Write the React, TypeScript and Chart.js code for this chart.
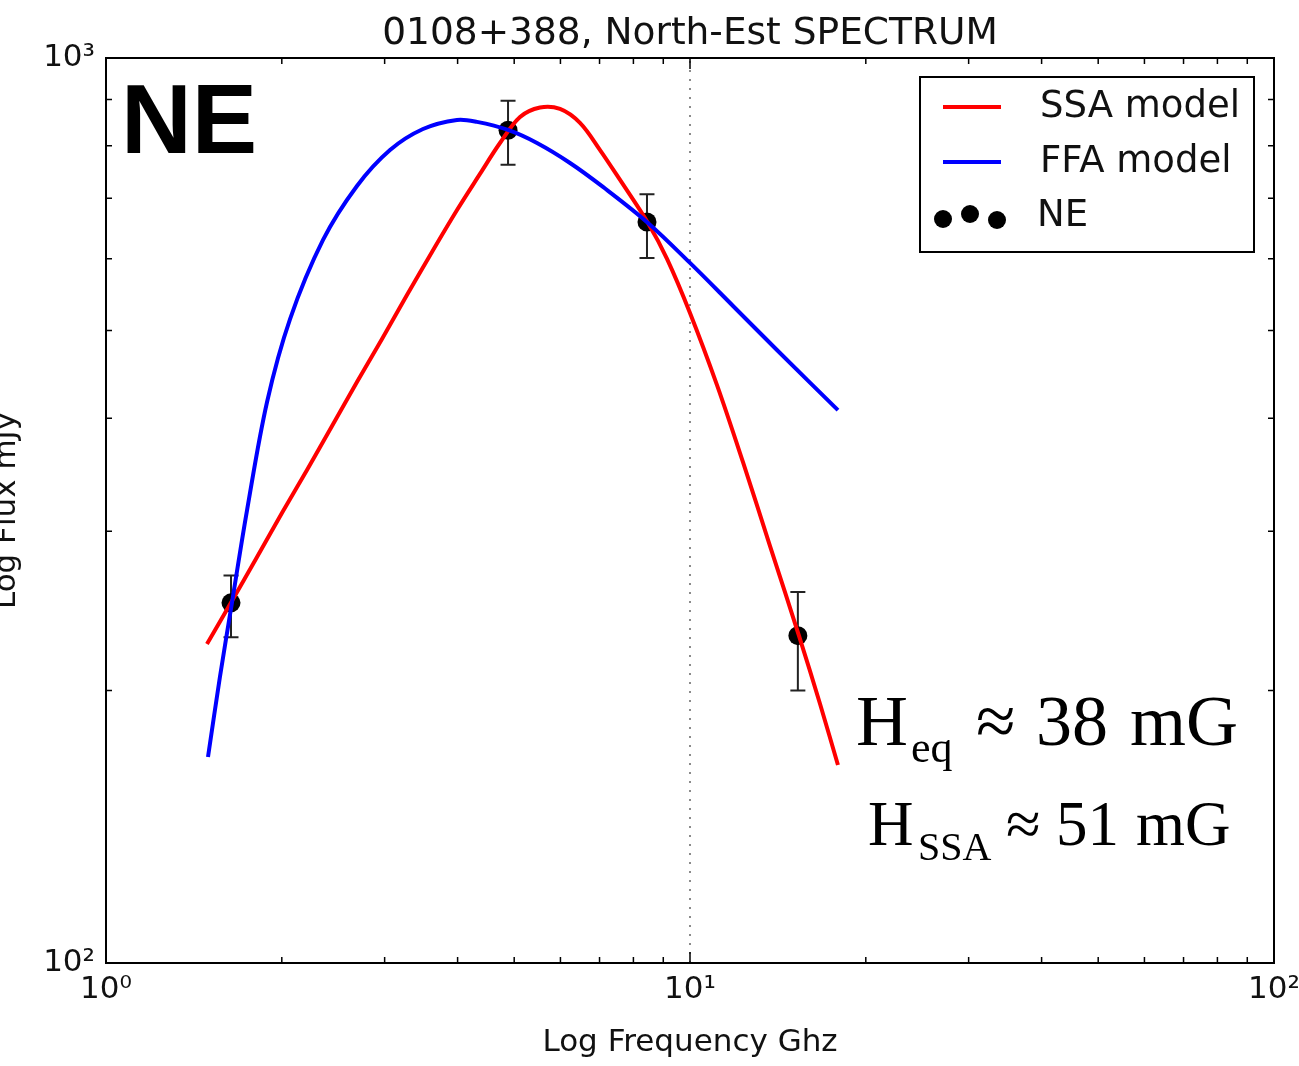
import { useEffect, useRef } from "react";
import { Chart, registerables } from "chart.js";

Chart.register(...registerables);

// ---- text ----
const chartTitle = "0108+388, North-Est SPECTRUM";
const xAxisTitle = "Log Frequency Ghz";
const yAxisTitle = "Log Flux mJy";
const panelLabel = "NE";
const legendLabels = ["SSA model", "FFA model", "NE"];

// ---- axes ----
const xRange = [1, 100];
const yRange = [100, 1000];
const vLineFreq = 10;

// ---- observed points (GHz, mJy) ----
const obsFreq = [1.637, 4.88, 8.44, 15.3];
const obsFlux = [250, 832, 659, 230];
const obsFluxLow = [229, 762, 601, 200];
const obsFluxHigh = [268, 897, 707, 257];

// ---- SSA model curve ----
const ssaFreq = [1.489, 1.643, 1.814, 2.001, 2.209, 2.438, 2.69, 2.969, 3.276, 3.616, 3.991, 4.369, 4.727, 5.116, 5.535, 5.99, 6.481, 7.014, 7.59, 8.474, 9.134, 10.0, 11.12, 12.32, 13.71, 15.37, 16.7, 17.92];
const ssaFlux = [225.2, 251.2, 280.9, 314.2, 350.6, 392.1, 438.5, 489.3, 547.2, 610.6, 679.3, 744.6, 805.5, 860.7, 881.8, 878.5, 847.8, 791.2, 733.2, 657.2, 599.8, 522.7, 435.3, 357.8, 288.9, 229.8, 193.3, 165.5];

// ---- FFA model curve ----
const ffaFreq = [1.495, 1.567, 1.643, 1.744, 1.887, 2.066, 2.353, 2.69, 3.064, 3.49, 3.99, 4.318, 4.879, 5.47, 6.231, 7.096, 8.474, 10.0, 11.85, 14.09, 17.92];
const ffaFlux = [168.9, 207.0, 250.0, 316.6, 416.8, 514.7, 629.4, 722.1, 791.3, 834.8, 854.3, 850.0, 832.7, 805.5, 765.6, 720.3, 657.3, 593.7, 532.1, 475.7, 408.3];

// ---- annotation text ----
const annot1 = { main: "H", sub: "eq", rest: ["≈", "38", "mG"] };
const annot2 = { main: "H", sub: "SSA", rest: ["≈", "51", "mG"] };

const SANS = "'DejaVu Sans', sans-serif";
const SERIF = "'Liberation Serif', 'Times New Roman', serif";

const supDigits: Record<string, string> = { "0": "⁰", "1": "¹", "2": "²", "3": "³", "4": "⁴" };
function isDecade(v: number) {
  const l = Math.log10(v);
  return Math.abs(l - Math.round(l)) < 1e-6;
}
function decadeLabel(v: number) {
  const e = String(Math.round(Math.log10(v)));
  return "10" + e.split("").map((c) => supDigits[c] || c).join("");
}
function logTickValues(min: number, max: number) {
  const out: { v: number; major: boolean }[] = [];
  for (let k = min; k < max; k *= 10) {
    for (let m = 1; m <= 9; m++) out.push({ v: m * k, major: m === 1 });
  }
  out.push({ v: max, major: true });
  return out;
}

const decorPlugin = {
  id: "decor",
  beforeDatasetsDraw(chart: any) {
    const ctx = chart.ctx;
    const xs = chart.scales.x;
    const ys = chart.scales.y;
    ctx.save();
    ctx.strokeStyle = "#222";
    ctx.lineWidth = 2;
    for (let i = 0; i < obsFreq.length; i++) {
      const px = xs.getPixelForValue(obsFreq[i]);
      const y1 = ys.getPixelForValue(obsFluxLow[i]);
      const y2 = ys.getPixelForValue(obsFluxHigh[i]);
      ctx.beginPath();
      ctx.moveTo(px, y1);
      ctx.lineTo(px, y2);
      ctx.moveTo(px - 7.5, y1);
      ctx.lineTo(px + 7.5, y1);
      ctx.moveTo(px - 7.5, y2);
      ctx.lineTo(px + 7.5, y2);
      ctx.stroke();
    }
    ctx.restore();
  },
  afterDraw(chart: any) {
    const ctx = chart.ctx;
    const a = chart.chartArea;
    const xs = chart.scales.x;
    const ys = chart.scales.y;
    ctx.save();

    // frame
    ctx.strokeStyle = "#000";
    ctx.lineWidth = 2;
    ctx.strokeRect(a.left, a.top, a.right - a.left, a.bottom - a.top);

    // inward ticks on all four sides
    ctx.lineWidth = 1.5;
    ctx.beginPath();
    for (const t of logTickValues(xRange[0], xRange[1])) {
      const px = xs.getPixelForValue(t.v);
      const len = t.major ? 11 : 6;
      ctx.moveTo(px, a.bottom);
      ctx.lineTo(px, a.bottom - len);
      ctx.moveTo(px, a.top);
      ctx.lineTo(px, a.top + len);
    }
    for (const t of logTickValues(yRange[0], yRange[1])) {
      const py = ys.getPixelForValue(t.v);
      const len = t.major ? 11 : 6;
      ctx.moveTo(a.left, py);
      ctx.lineTo(a.left + len, py);
      ctx.moveTo(a.right, py);
      ctx.lineTo(a.right - len, py);
    }
    ctx.stroke();

    // title
    ctx.fillStyle = "#111";
    ctx.font = `37.5px ${SANS}`;
    ctx.textAlign = "center";
    ctx.textBaseline = "alphabetic";
    ctx.fillText(chartTitle, (a.left + a.right) / 2, 44);

    // x axis title
    ctx.font = `31px ${SANS}`;
    ctx.fillText(xAxisTitle, (a.left + a.right) / 2, 1051);

    // y axis title (rotated)
    ctx.save();
    ctx.translate(15, (a.top + a.bottom) / 2);
    ctx.rotate(-Math.PI / 2);
    ctx.textAlign = "center";
    ctx.fillText(yAxisTitle, 0, 0);
    ctx.restore();

    // panel label
    ctx.fillStyle = "#000";
    ctx.font = `bold 98px 'Liberation Sans', Arial, sans-serif`;
    ctx.textAlign = "left";
    ctx.fillText(panelLabel, 121, 153);

    // legend box
    ctx.fillStyle = "#fff";
    ctx.fillRect(920, 77, 334, 175);
    ctx.strokeStyle = "#000";
    ctx.lineWidth = 2;
    ctx.strokeRect(920, 77, 334, 175);
    ctx.lineWidth = 4;
    ctx.strokeStyle = "#ff0000";
    ctx.beginPath();
    ctx.moveTo(943, 107);
    ctx.lineTo(1001, 107);
    ctx.stroke();
    ctx.strokeStyle = "#0000ff";
    ctx.beginPath();
    ctx.moveTo(943, 162);
    ctx.lineTo(1001, 162);
    ctx.stroke();
    ctx.fillStyle = "#000";
    for (const [dx, dy] of [[943, 219], [970, 214], [997, 220]]) {
      ctx.beginPath();
      ctx.arc(dx, dy, 9, 0, Math.PI * 2);
      ctx.fill();
    }
    ctx.fillStyle = "#111";
    ctx.font = `37px ${SANS}`;
    ctx.textBaseline = "middle";
    ctx.fillText(legendLabels[0], 1040, 107);
    ctx.fillText(legendLabels[1], 1040, 162);
    ctx.fillText(legendLabels[2], 1037, 216);

    // magnetic field annotations
    ctx.textBaseline = "alphabetic";
    ctx.fillStyle = "#000";
    ctx.font = `72px ${SERIF}`;
    ctx.fillText(annot1.main, 856, 745);
    ctx.font = `44px ${SERIF}`;
    ctx.fillText(annot1.sub, 911, 762);
    ctx.font = `72px ${SERIF}`;
    ctx.fillText(annot1.rest[0], 976, 745);
    ctx.fillText(annot1.rest[1], 1036, 745);
    ctx.fillText(annot1.rest[2], 1130, 745);

    ctx.font = `63px ${SERIF}`;
    ctx.fillText(annot2.main, 868, 845);
    ctx.font = `40px ${SERIF}`;
    ctx.fillText(annot2.sub, 918, 860);
    ctx.font = `63px ${SERIF}`;
    ctx.fillText(annot2.rest[0], 1006, 845);
    ctx.fillText(annot2.rest[1], 1056, 845);
    ctx.fillText(annot2.rest[2], 1136, 845);

    ctx.restore();
  },
};

export default function App() {
  const canvasRef = useRef<HTMLCanvasElement | null>(null);

  useEffect(() => {
    const canvas = canvasRef.current;
    if (!canvas) return;
    const tickFont = { family: SANS, size: 31 };
    const chart = new Chart(canvas, {
      type: "line",
      data: {
        datasets: [
          {
            label: legendLabels[1],
            data: ffaFreq.map((f, i) => ({ x: f, y: ffaFlux[i] })),
            borderColor: "#0000ff",
            borderWidth: 4,
            pointRadius: 0,
            tension: 0.35,
            fill: false,
            order: 1,
          },
          {
            label: legendLabels[0],
            data: ssaFreq.map((f, i) => ({ x: f, y: ssaFlux[i] })),
            borderColor: "#ff0000",
            borderWidth: 4,
            pointRadius: 0,
            tension: 0.35,
            fill: false,
            order: 2,
          },
          {
            label: legendLabels[2],
            data: obsFreq.map((f, i) => ({ x: f, y: obsFlux[i] })),
            showLine: false,
            pointRadius: 9.5,
            pointBackgroundColor: "#000",
            pointBorderWidth: 0,
            borderColor: "#000",
            order: 3,
          },
          {
            label: "vline",
            data: [
              { x: vLineFreq, y: yRange[0] },
              { x: vLineFreq, y: yRange[1] },
            ],
            borderColor: "#666",
            borderWidth: 1.5,
            borderDash: [2, 7],
            pointRadius: 0,
            order: 4,
          },
        ],
      } as any,
      options: {
        responsive: false,
        animation: false,
        events: [],
        layout: { padding: { left: 0, top: 58, right: 25, bottom: 0 } },
        plugins: {
          legend: { display: false },
          tooltip: { enabled: false },
          title: { display: false },
        },
        scales: {
          x: {
            type: "logarithmic",
            min: xRange[0],
            max: xRange[1],
            grid: { display: false, drawTicks: false, tickLength: 0 },
            border: { display: false },
            ticks: {
              autoSkip: false,
              maxRotation: 0,
              minRotation: 0,
              padding: 8,
              color: "#111",
              font: tickFont,
              callback: (v: any) => (isDecade(Number(v)) ? decadeLabel(Number(v)) : ""),
            },
            afterFit: (s: any) => {
              s.height = 103;
              s.paddingLeft = 0;
              s.paddingRight = 0;
            },
          },
          y: {
            type: "logarithmic",
            min: yRange[0],
            max: yRange[1],
            grid: { display: false, drawTicks: false, tickLength: 0 },
            border: { display: false },
            ticks: {
              autoSkip: false,
              padding: 11,
              color: "#111",
              font: tickFont,
              callback: (v: any) => (isDecade(Number(v)) ? decadeLabel(Number(v)) : ""),
            },
            afterFit: (s: any) => {
              s.width = 106;
              s.paddingTop = 0;
              s.paddingBottom = 0;
            },
          },
        },
      } as any,
      plugins: [decorPlugin],
    });
    return () => chart.destroy();
  }, []);

  return (
    <div style={{ position: "absolute", left: 0, top: 0, width: 1299, height: 1066, background: "#fff" }}>
      <canvas ref={canvasRef} width={1299} height={1066} style={{ display: "block" }} />
    </div>
  );
}
